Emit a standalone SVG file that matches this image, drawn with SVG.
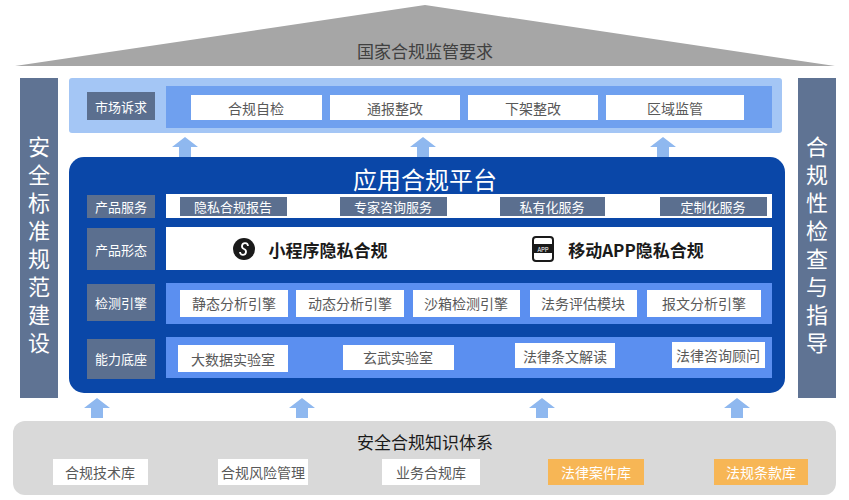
<svg xmlns="http://www.w3.org/2000/svg" width="849" height="500" viewBox="0 0 849 500">
<style>
text{font-family:"Noto Sans CJK SC","Noto Sans",sans-serif;text-anchor:middle;dominant-baseline:central}
.lab{fill:#5b6f8f}.lt{fill:#fff;font-size:13px}
.wb{fill:#fff}.wt{fill:#595959;font-size:14px}
.gb{fill:#5b6f8f}.gt{fill:#fff;font-size:13px}
.arr{fill:#8fb8ef}
.pil{fill:#5f7393}.pt{fill:#fff;font-size:22px}
</style>
<defs><path id="ar" d="M-13,0 L0,-10 L13,0 L6,0 L6,10 L-6,10 L-6,0Z"/></defs>
<g id="roof"><polygon points="425,5 15,66 835,66" fill="#a6a6a6"/><text x="425" y="50" font-size="17" fill="#404040">国家合规监管要求</text></g>
<g id="left-pillar"><rect x="20" y="78" width="38" height="320" class="pil"/>
<text class="pt" x="39" y="145">安</text><text class="pt" x="39" y="173">全</text><text class="pt" x="39" y="201">标</text><text class="pt" x="39" y="229">准</text><text class="pt" x="39" y="257">规</text><text class="pt" x="39" y="285">范</text><text class="pt" x="39" y="313">建</text><text class="pt" x="39" y="341">设</text></g>
<g id="right-pillar"><rect x="798" y="78" width="38" height="320" class="pil"/>
<text class="pt" x="817" y="145">合</text><text class="pt" x="817" y="173">规</text><text class="pt" x="817" y="201">性</text><text class="pt" x="817" y="229">检</text><text class="pt" x="817" y="257">查</text><text class="pt" x="817" y="285">与</text><text class="pt" x="817" y="313">指</text><text class="pt" x="817" y="341">导</text></g>
<g id="market"><rect x="69" y="78" width="713" height="55" rx="3" fill="#a4c6f5"/>
<rect x="87" y="92" width="68" height="28" class="lab"/><text class="lt" x="121" y="106">市场诉求</text>
<rect x="166" y="86" width="606" height="42" fill="#6fa0ef"/>
<rect x="191" y="95" width="131" height="25" class="wb"/><text class="wt" x="256" y="108">合规自检</text>
<rect x="330" y="95" width="130" height="25" class="wb"/><text class="wt" x="395" y="108">通报整改</text>
<rect x="468" y="95" width="130" height="25" class="wb"/><text class="wt" x="533" y="108">下架整改</text>
<rect x="606" y="95" width="138" height="25" class="wb"/><text class="wt" x="675" y="108">区域监管</text></g>
<g id="connectors" class="arr">
<use href="#ar" x="185" y="147"/><use href="#ar" x="423" y="147"/><use href="#ar" x="663" y="147"/>
<use href="#ar" x="97" y="408"/><use href="#ar" x="302" y="408"/><use href="#ar" x="542" y="408"/><use href="#ar" x="737" y="408"/></g>
<g id="platform"><rect x="69" y="157" width="716" height="236" rx="15" fill="#0a47a8"/>
<text x="425" y="178" font-size="24" fill="#fff">应用合规平台</text></g>
<g id="row-service"><rect x="87" y="195" width="68" height="23" class="lab"/><text class="lt" x="121" y="206">产品服务</text>
<rect x="166" y="194" width="606" height="24" class="wb"/>
<rect x="180" y="197" width="107" height="19" class="gb"/><text class="gt" x="233" y="206">隐私合规报告</text>
<rect x="340" y="197" width="107" height="19" class="gb"/><text class="gt" x="393" y="206">专家咨询服务</text>
<rect x="500" y="197" width="105" height="19" class="gb"/><text class="gt" x="552" y="206">私有化服务</text>
<rect x="660" y="197" width="107" height="19" class="gb"/><text class="gt" x="713" y="206">定制化服务</text></g>
<g id="row-form"><rect x="87" y="228" width="68" height="42" class="lab"/><text class="lt" x="121" y="249">产品形态</text>
<rect x="166" y="227" width="606" height="43" class="wb"/>
<circle cx="244" cy="249" r="11" fill="#1a1a1a"/><path d="M240,252 a3,3 0 1 0 4,-3 a3,3 0 1 1 4,-3" stroke="#fff" stroke-width="1.8" fill="none"/>
<text x="328" y="249" font-size="17" font-weight="bold" fill="#1a1a1a">小程序隐私合规</text>
<rect x="533" y="237" width="20" height="24" rx="3" fill="#fff" stroke="#1a1a1a" stroke-width="2"/><rect x="532" y="244" width="22" height="9" fill="#1a1a1a"/><text x="543" y="249" font-size="6" fill="#fff" font-family="Liberation Sans">APP</text>
<text x="636" y="249" font-size="17" font-weight="bold" fill="#1a1a1a">移动APP隐私合规</text></g>
<g id="row-engine"><rect x="87" y="284" width="68" height="37" class="lab"/><text class="lt" x="121" y="302">检测引擎</text>
<rect x="166" y="283" width="606" height="41" fill="#5b8ff0"/>
<rect x="180" y="290" width="108" height="27" class="wb"/><text class="wt" x="234" y="303">静态分析引擎</text>
<rect x="296" y="290" width="108" height="27" class="wb"/><text class="wt" x="350" y="303">动态分析引擎</text>
<rect x="413" y="290" width="107" height="27" class="wb"/><text class="wt" x="466" y="303">沙箱检测引擎</text>
<rect x="530" y="290" width="107" height="27" class="wb"/><text class="wt" x="583" y="303">法务评估模块</text>
<rect x="647" y="290" width="114" height="27" class="wb"/><text class="wt" x="704" y="303">报文分析引擎</text></g>
<g id="row-base"><rect x="87" y="339" width="68" height="40" class="lab"/><text class="lt" x="121" y="358">能力底座</text>
<rect x="166" y="337" width="606" height="41" fill="#5b8ff0"/>
<rect x="178" y="345" width="110" height="27" class="wb"/><text class="wt" x="233" y="359">大数据实验室</text>
<rect x="343" y="345" width="111" height="25" class="wb"/><text class="wt" x="398" y="357">玄武实验室</text>
<rect x="515" y="343" width="100" height="25" class="wb"/><text class="wt" x="565" y="356">法律条文解读</text>
<rect x="672" y="342" width="93" height="26" class="wb"/><text class="wt" x="718" y="355">法律咨询顾问</text></g>
<g id="knowledge"><rect x="13" y="421" width="823" height="74" rx="12" fill="#d9d9d9"/>
<text x="425" y="441" font-size="17" fill="#1a1a1a">安全合规知识体系</text>
<rect x="53" y="459" width="95" height="26" class="wb"/><text class="wt" x="100" y="472">合规技术库</text>
<rect x="218" y="459" width="90" height="26" class="wb"/><text class="wt" x="263" y="472">合规风险管理</text>
<rect x="382" y="459" width="98" height="26" class="wb"/><text class="wt" x="431" y="472">业务合规库</text>
<rect x="548" y="459" width="96" height="26" fill="#f7b655"/><text x="596" y="472" font-size="14" fill="#fff">法律案件库</text>
<rect x="714" y="459" width="94" height="26" fill="#f7b655"/><text x="761" y="472" font-size="14" fill="#fff">法规条款库</text></g>
</svg>
